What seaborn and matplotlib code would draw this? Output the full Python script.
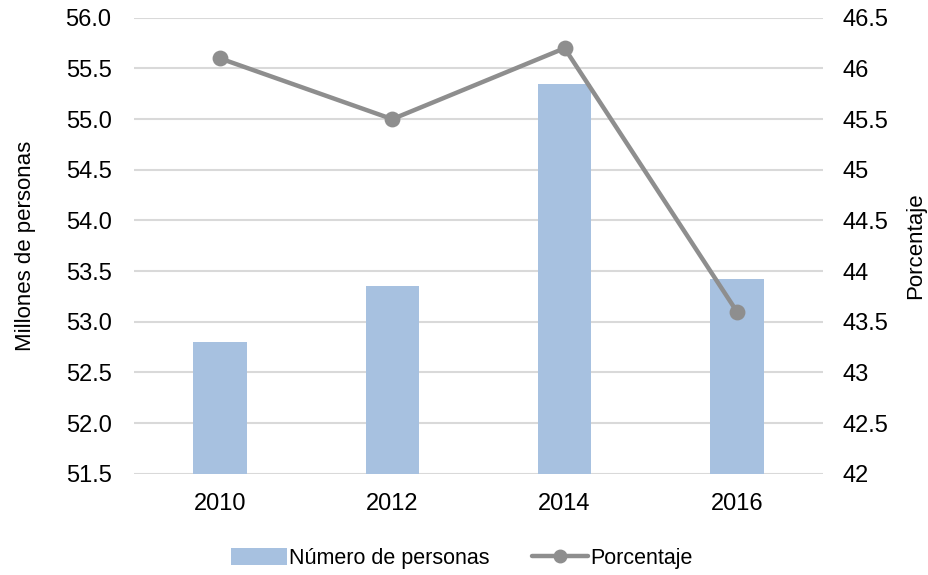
import matplotlib
matplotlib.use("Agg")
import matplotlib.pyplot as plt
import seaborn as sns
import pandas as pd
from matplotlib.ticker import FormatStrFormatter, FuncFormatter
from matplotlib.lines import Line2D
from matplotlib.patches import Patch

years = ["2010", "2012", "2014", "2016"]
personas = [52.8, 53.35, 55.35, 53.42]
porcentaje = [46.1, 45.5, 46.2, 43.6]

bar_color = "#a7c1e0"
line_color = "#8e8e8e"

sns.set_theme(style="white")
plt.rcParams["font.family"] = ["Liberation Sans", "DejaVu Sans"]
plt.rcParams["text.color"] = "black"
plt.rcParams["axes.labelcolor"] = "black"
plt.rcParams["xtick.color"] = "black"
plt.rcParams["ytick.color"] = "black"

df = pd.DataFrame({"year": years, "personas": personas, "porcentaje": porcentaje})

fig = plt.figure(figsize=(9.29, 5.75), dpi=100)
ax = fig.add_axes([0.144, 0.176, 0.742, 0.793])

sns.barplot(data=df, x="year", y="personas", color=bar_color, width=0.31,
            saturation=1, ax=ax, zorder=2, linewidth=0, edgecolor="none")
ax.set_ylim(51.5, 56.0)
ax.set_yticks([51.5 + 0.5 * i for i in range(10)])
ax.yaxis.set_major_formatter(FormatStrFormatter("%.1f"))
ax.grid(axis="y", color="#d9d9d9", linewidth=1.5, zorder=0)
ax.set_axisbelow(True)
ax.set_xlabel("")
ax.set_ylabel("Millones de personas", fontsize=16, labelpad=21)
ax.tick_params(axis="y", length=0, pad=16, labelsize=17)
ax.tick_params(axis="x", length=0, pad=14, labelsize=17)
for s in ax.spines.values():
    s.set_visible(False)

ax2 = ax.twinx()
sns.pointplot(data=df, x="year", y="porcentaje", color=line_color, ax=ax2,
              markers="o", markersize=9, linewidth=3.2, errorbar=None)
ax2.set_ylim(42, 46.5)
ax2.set_yticks([42 + 0.5 * i for i in range(10)])
ax2.yaxis.set_major_formatter(FuncFormatter(lambda v, p: f"{v:g}"))
ax2.set_ylabel("Porcentaje", fontsize=16, labelpad=12)
ax2.set_xlabel("")
ax2.tick_params(axis="y", length=0, pad=14, labelsize=17)
ax2.grid(False)
for s in ax2.spines.values():
    s.set_visible(False)
ax.set_xlim(-0.5, 3.5)

handles = [Patch(facecolor=bar_color, edgecolor="none"),
           Line2D([], [], color=line_color, linewidth=3.2, marker="o", markersize=9)]
fig.legend(handles, ["Número de personas", "Porcentaje"], loc="center",
           bbox_to_anchor=(0.497, 0.029), ncol=2, frameon=False, fontsize=15.5,
           handlelength=2.6, handletextpad=0.1, columnspacing=2.0,
           handleheight=0.8)

fig.savefig("out.png", dpi=100)
